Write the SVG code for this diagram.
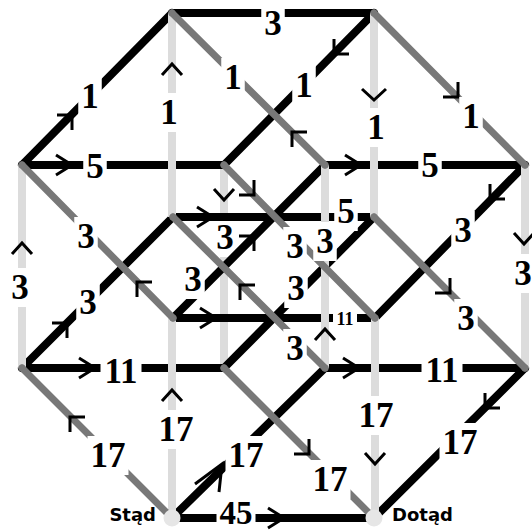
<svg xmlns="http://www.w3.org/2000/svg" width="532" height="531" viewBox="0 0 532 531">
<style>
.b{stroke:#000;stroke-width:8;stroke-linecap:round;fill:none}
.g{stroke:#787878;stroke-width:7;stroke-linecap:round;fill:none}
.l{stroke:#dcdcdc;stroke-width:8;stroke-linecap:butt;fill:none}
.a{stroke:#000;stroke-width:3;fill:none;stroke-linejoin:miter}
.bx{fill:#fff}
.t{font-family:"Liberation Serif","Times New Roman",serif;font-weight:bold;font-size:35px;text-anchor:middle;fill:#000}
.ts{font-size:18px}
.n{font-family:"DejaVu Sans","Verdana",sans-serif;font-weight:bold;font-size:18px;fill:#000}
.cap{fill:#787878}
.end{fill:#e6e6e6}
</style>
<rect width="532" height="531" fill="#fff"/>
<g id="connectors">
  <g id="under">
    <path class="l" d="M224,368V165"/>
    <rect class="bx" x="213.25" y="218" width="23.5" height="39"/><text class="t" x="225" y="249">3</text>
  </g>
  <g id="black-edges">
    <path class="b" d="M172,13H374"/>
    <path class="b" d="M22,165H224"/>
    <path class="b" d="M325,165H525"/>
    <path class="b" d="M173,217H374"/>
    <path class="b" d="M173,318H375"/>
    <path class="b" d="M22,368H224"/>
    <path class="b" d="M325,368H525"/>
    <path class="b" d="M172,518H374"/>
    <path class="b" d="M22,165L172,13"/>
    <path class="b" d="M224,165L374,13"/>
    <path class="b" d="M22,368L173,217"/>
    <path class="b" d="M224,368L374,217"/>
    <path class="b" d="M173,318L325,165"/>
    <path class="b" d="M375,318L525,165"/>
    <path class="b" d="M172,518L325,368"/>
    <path class="b" d="M374,518L525,368"/>
  </g>
  <g id="light-edges">
    <path class="l" d="M172,518V318"/>
    <path class="l" d="M375,518V318"/>
    <path class="l" d="M325,368V165"/>
    <path class="l" d="M525,368V165"/>
    <path class="l" d="M22,368V165"/>
    <path class="l" d="M172,217V13"/>
    <path class="l" d="M374,217V13"/>
  </g>
  <g id="gray-edges">
    <path class="g" d="M172,518L22,368"/>
    <path class="g" d="M374,518L224,368"/>
    <path class="g" d="M325,368L173,217"/>
    <path class="g" d="M525,368L374,217"/>
    <path class="g" d="M173,318L22,165"/>
    <path class="g" d="M375,318L224,165"/>
    <path class="g" d="M325,165L172,13"/>
    <path class="g" d="M525,165L374,13"/>
  </g>
  <g id="arrows">
    <path class="a" d="M56,155L72,165L56,175"/>
    <path class="a" d="M345,155L361,165L345,175"/>
    <path class="a" d="M197,207L213,217L197,227"/>
    <path class="a" d="M200,308L216,318L200,328"/>
    <path class="a" d="M79,358L95,368L79,378"/>
    <path class="a" d="M343,358L359,368L343,378"/>
    <path class="a" d="M268,508L284,518L268,528"/>
    <path class="a" d="M57,115L72,115L72,130"/>
    <path class="a" d="M349,54L334,54L334,39"/>
    <path class="a" d="M52,323L67,323L67,338"/>
    <path class="a" d="M239,236L254,236L254,251"/>
    <path class="a" d="M505,199L490,199L490,184"/>
    <path class="a" d="M195,484L222,464L219,492"/>
    <path class="a" d="M500,408L485,408L485,393"/>
    <path class="a" d="M85,417L70,417L70,432"/>
    <path class="a" d="M294,454L309,454L309,439"/>
    <path class="a" d="M255,285L240,285L240,300"/>
    <path class="a" d="M435,293L450,293L450,278"/>
    <path class="a" d="M152,282L137,282L137,297"/>
    <path class="a" d="M239,195L254,195L254,180"/>
    <path class="a" d="M307,132L292,132L292,147"/>
    <path class="a" d="M443,97L458,97L458,82"/>
    <path class="a" d="M162,401L172,390L182,401"/>
    <path class="a" d="M365,453L375,464L385,453"/>
    <path class="a" d="M315,340L325,329L335,340"/>
    <path class="a" d="M514,233L524,244L534,233"/>
    <path class="a" d="M12,254L22,243L32,254"/>
    <path class="a" d="M214,189L224,200L234,189"/>
    <path class="a" d="M162,75L172,64L182,75"/>
    <path class="a" d="M362,89L374,100L386,89"/>
  </g>
  <g id="labels">
    <rect class="bx" x="261.25" y="4" width="23.5" height="39"/><text class="t" x="273" y="35">3</text>
    <rect class="bx" x="83.25" y="147" width="23.5" height="39"/><text class="t" x="95" y="178">5</text>
    <rect class="bx" x="418.25" y="146" width="23.5" height="39"/><text class="t" x="430" y="177">5</text>
    <rect class="bx" x="334.25" y="192" width="23.5" height="39"/><text class="t" x="346" y="223">5</text>
    <rect class="bx" x="333" y="309" width="24" height="20"/><text class="t ts" x="345" y="325">11</text>
    <rect class="bx" x="100.5" y="352" width="41" height="39"/><text class="t" x="121" y="383">11</text>
    <rect class="bx" x="421.5" y="351" width="41" height="39"/><text class="t" x="442" y="382">11</text>
    <rect class="bx" x="216.5" y="494" width="39" height="37"/><text class="t" x="236" y="524" style="font-size:33px">45</text>
    <rect class="bx" x="78.25" y="77" width="23.5" height="39"/><text class="t" x="90" y="108">1</text>
    <rect class="bx" x="292.25" y="66" width="23.5" height="39"/><text class="t" x="304" y="97">1</text>
    <rect class="bx" x="76.25" y="283" width="23.5" height="39"/><text class="t" x="88" y="314">3</text>
    <rect class="bx" x="284.25" y="269" width="23.5" height="39"/><text class="t" x="296" y="300">3</text>
    <rect class="bx" x="181.25" y="260" width="23.5" height="39"/><text class="t" x="193" y="291">3</text>
    <rect class="bx" x="451.25" y="211" width="23.5" height="39"/><text class="t" x="463" y="242">3</text>
    <rect class="bx" x="225.5" y="436" width="41" height="39"/><text class="t" x="246" y="467">17</text>
    <rect class="bx" x="439.5" y="423" width="41" height="39"/><text class="t" x="460" y="454">17</text>
    <rect class="bx" x="87.5" y="436" width="41" height="39"/><text class="t" x="108" y="467">17</text>
    <rect class="bx" x="309.5" y="460" width="41" height="39"/><text class="t" x="330" y="491">17</text>
    <rect class="bx" x="283.25" y="329" width="23.5" height="39"/><text class="t" x="295" y="360">3</text>
    <rect class="bx" x="454.25" y="299" width="23.5" height="39"/><text class="t" x="466" y="330">3</text>
    <rect class="bx" x="74.25" y="217" width="23.5" height="39"/><text class="t" x="86" y="248">3</text>
    <rect class="bx" x="283.25" y="227" width="23.5" height="39"/><text class="t" x="295" y="258">3</text>
    <rect class="bx" x="221.25" y="58" width="23.5" height="39"/><text class="t" x="233" y="89">1</text>
    <rect class="bx" x="459.25" y="97" width="23.5" height="39"/><text class="t" x="471" y="128">1</text>
    <rect class="bx" x="155.5" y="410" width="41" height="39"/><text class="t" x="176" y="441">17</text>
    <rect class="bx" x="355.5" y="396" width="41" height="39"/><text class="t" x="376" y="427">17</text>
    <rect class="bx" x="313.25" y="222" width="23.5" height="39"/><text class="t" x="325" y="253">3</text>
    <rect class="bx" x="512.25" y="254" width="23.5" height="39"/><text class="t" x="523" y="285">3</text>
    <rect class="bx" x="8.25" y="268" width="23.5" height="39"/><text class="t" x="20" y="299">3</text>
    <rect class="bx" x="157.25" y="93" width="23.5" height="39"/><text class="t" x="169" y="124">1</text>
    <rect class="bx" x="364.25" y="108" width="23.5" height="39"/><text class="t" x="376" y="139">1</text>
  </g>
</g>
<g id="v0111"><circle class="cap" cx="172" cy="13" r="3.5"/></g>
<g id="v1111"><circle class="cap" cx="374" cy="13" r="3.5"/></g>
<g id="v0011"><circle class="cap" cx="22" cy="165" r="3.5"/></g>
<g id="v1011"><circle class="cap" cx="224" cy="165" r="3.5"/></g>
<g id="v0101"><circle class="cap" cx="325" cy="165" r="3.5"/></g>
<g id="v1101"><circle class="cap" cx="525" cy="165" r="3.5"/></g>
<g id="v0110"><circle class="cap" cx="173" cy="217" r="3.5"/></g>
<g id="v1110"><circle class="cap" cx="374" cy="217" r="3.5"/></g>
<g id="v0001"><circle class="cap" cx="173" cy="318" r="3.5"/></g>
<g id="v1001"><circle class="cap" cx="375" cy="318" r="3.5"/></g>
<g id="v0010"><circle class="cap" cx="22" cy="368" r="3.5"/></g>
<g id="v1010"><circle class="cap" cx="224" cy="368" r="3.5"/></g>
<g id="v0100"><circle class="cap" cx="325" cy="368" r="3.5"/></g>
<g id="v1100"><circle class="cap" cx="525" cy="368" r="3.5"/></g>
<g id="start"><circle class="end" cx="172" cy="518" r="8.5"/><text class="n" x="156" y="521" text-anchor="end">Stąd</text></g>
<g id="finish"><circle class="end" cx="374" cy="518" r="8.5"/><text class="n" x="392" y="521">Dotąd</text></g>
</svg>
